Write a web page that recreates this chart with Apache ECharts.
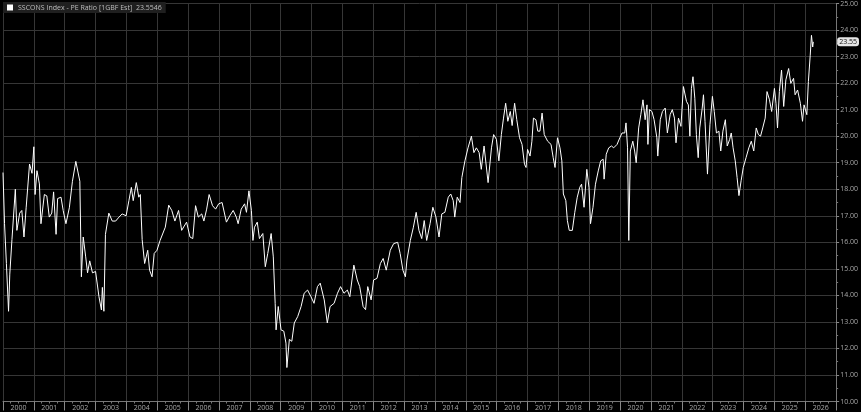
<!DOCTYPE html>
<html>
<head>
<meta charset="utf-8">
<script src="https://cdn.jsdelivr.net/npm/echarts@6/dist/echarts.min.js"></script>
<style>
  html, body { margin: 0; padding: 0; background: #000; }
  #chart { width: 861px; height: 412px; }
</style>
</head>
<body>
<div id="chart"></div>
<script>
  // time position of each reading, in fractional years
  const times = [
    2000.00, 2000.05, 2000.11, 2000.18, 2000.22, 2000.29, 2000.40, 2000.45, 2000.54, 2000.61, 2000.68, 2000.75, 2000.86, 2000.94,
    2001.00, 2001.04, 2001.10, 2001.18, 2001.23, 2001.34, 2001.42, 2001.50, 2001.58, 2001.64, 2001.72, 2001.77, 2001.88, 2001.95,
    2002.04, 2002.15, 2002.25, 2002.36, 2002.49, 2002.54, 2002.60, 2002.68, 2002.74, 2002.81, 2002.90,
    2003.00, 2003.11, 2003.19, 2003.22, 2003.27, 2003.32, 2003.43, 2003.54, 2003.65, 2003.76, 2003.86, 2003.99,
    2004.08, 2004.16, 2004.22, 2004.32, 2004.40, 2004.45, 2004.51, 2004.59, 2004.69, 2004.75, 2004.83, 2004.90, 2004.99,
    2005.09, 2005.26, 2005.37, 2005.47, 2005.57, 2005.69, 2005.79, 2005.95,
    2006.06, 2006.15, 2006.24, 2006.33, 2006.44, 2006.51, 2006.60, 2006.68, 2006.79, 2006.89, 2006.99,
    2007.10, 2007.24, 2007.35, 2007.46, 2007.56, 2007.62, 2007.72, 2007.83, 2007.89, 2007.97,
    2008.05, 2008.10, 2008.15, 2008.24, 2008.31, 2008.42, 2008.50, 2008.58, 2008.69, 2008.76, 2008.82, 2008.85, 2008.92,
    2009.01, 2009.10, 2009.17, 2009.20, 2009.28, 2009.36, 2009.44, 2009.55, 2009.66, 2009.76, 2009.87, 2009.98,
    2010.08, 2010.19, 2010.28, 2010.41, 2010.51, 2010.60, 2010.73, 2010.84, 2010.94,
    2011.05, 2011.16, 2011.24, 2011.37, 2011.48, 2011.56, 2011.67, 2011.75, 2011.82, 2011.93,
    2012.01, 2012.12, 2012.23, 2012.32, 2012.42, 2012.55, 2012.66, 2012.79, 2012.87, 2012.96,
    2013.04, 2013.09, 2013.20, 2013.30, 2013.39, 2013.48, 2013.57, 2013.65, 2013.73, 2013.84, 2013.93,
    2014.03, 2014.13, 2014.22, 2014.32, 2014.43, 2014.51, 2014.59, 2014.64, 2014.72, 2014.81, 2014.87, 2014.97,
    2015.07, 2015.18, 2015.26, 2015.34, 2015.43, 2015.50, 2015.59, 2015.64, 2015.72, 2015.83, 2015.90, 2015.99,
    2016.07, 2016.15, 2016.22, 2016.29, 2016.36, 2016.44, 2016.50, 2016.58, 2016.65, 2016.74, 2016.82, 2016.90, 2016.95,
    2017.00, 2017.08, 2017.14, 2017.19, 2017.27, 2017.33, 2017.40, 2017.47, 2017.54, 2017.65, 2017.76, 2017.83, 2017.89, 2017.97,
    2018.05, 2018.11, 2018.16, 2018.24, 2018.29, 2018.35, 2018.45, 2018.53, 2018.61, 2018.69, 2018.75, 2018.83, 2018.92, 2018.99,
    2019.04, 2019.12, 2019.20, 2019.29, 2019.37, 2019.45, 2019.48, 2019.55, 2019.63, 2019.72, 2019.79, 2019.90, 2019.99,
    2020.06, 2020.15, 2020.19, 2020.24, 2020.28, 2020.33, 2020.41, 2020.47, 2020.52, 2020.60, 2020.67, 2020.74, 2020.81, 2020.87, 2020.90, 2020.95,
    2021.03, 2021.10, 2021.19, 2021.22, 2021.30, 2021.37, 2021.46, 2021.53, 2021.62, 2021.69, 2021.76, 2021.81, 2021.89, 2021.97,
    2022.05, 2022.10, 2022.15, 2022.21, 2022.26, 2022.31, 2022.36, 2022.42, 2022.47, 2022.53, 2022.58, 2022.66, 2022.70, 2022.75, 2022.83, 2022.91, 2022.99,
    2023.05, 2023.12, 2023.20, 2023.26, 2023.33, 2023.41, 2023.47, 2023.55, 2023.60, 2023.66, 2023.73, 2023.79, 2023.85, 2023.92, 2023.99,
    2024.08, 2024.17, 2024.25, 2024.33, 2024.41, 2024.48, 2024.55, 2024.62, 2024.70, 2024.76, 2024.84, 2024.91,
    2025.00, 2025.05, 2025.10, 2025.16, 2025.23, 2025.30, 2025.37, 2025.46, 2025.53, 2025.62, 2025.67, 2025.75, 2025.84, 2025.91, 2025.96,
    2026.05, 2026.10, 2026.16, 2026.20, 2026.24, 2026.26
  ];

  // PE ratio readings
  const peRatio = [
    18.63, 16.7, 15.2, 13.4, 14.8, 16.1, 18.0, 16.45, 17.1, 17.2, 16.2, 17.3, 18.95, 18.6,
    19.6, 17.8, 18.7, 18.2, 16.7, 17.8, 17.75, 16.95, 17.1, 17.9, 16.3, 17.65, 17.7, 17.2,
    16.7, 17.3, 18.3, 19.05, 18.3, 14.7, 16.2, 15.45, 14.85, 15.3, 14.85,
    14.9, 13.95, 13.45, 14.3, 13.4, 16.3, 17.1, 16.8, 16.8, 16.95, 17.07, 17.0,
    17.57, 18.07, 17.57, 18.25, 17.7, 17.8, 16.1, 15.2, 15.7, 14.95, 14.7, 15.58, 15.7,
    16.07, 16.57, 17.4, 17.2, 16.8, 17.2, 16.45, 16.76,
    16.2, 16.14, 17.38, 16.95, 17.07, 16.8, 17.25, 17.8, 17.38, 17.25, 17.45,
    17.5, 16.76, 17.0, 17.2, 16.95, 16.7, 17.25, 17.45, 17.13, 17.94,
    17.2, 16.07, 16.57, 16.76, 16.14, 16.33, 15.08, 15.58, 16.33, 15.45, 13.7, 12.7, 13.58,
    12.7, 12.65, 12.2, 11.28, 12.34, 12.27, 12.96, 13.2, 13.58, 14.08, 14.2, 13.95,
    13.7, 14.33, 14.46, 13.83, 12.96, 13.58, 13.7, 14.08, 14.33,
    14.08, 14.2, 13.95, 15.14, 14.58, 14.33, 13.58, 13.46, 14.33, 13.83,
    14.58, 14.64, 15.2, 15.39, 14.95, 15.7, 15.95, 16.0, 15.58, 14.95,
    14.7, 15.33, 16.07, 16.57, 17.13, 16.45, 16.14, 16.82, 16.07, 16.7, 17.32,
    16.95, 16.2, 17.07, 17.13, 17.7, 17.82, 17.57, 16.95, 17.7, 17.5, 18.44, 19.07,
    19.56, 20.0, 19.38, 19.56, 19.38, 18.75, 19.63, 19.69, 18.25, 19.56, 20.06, 19.88,
    19.07, 20.06, 20.68, 21.24, 20.56, 20.93, 20.4, 21.24, 20.62, 19.94, 19.69, 18.94, 18.82,
    19.5, 19.25, 19.81, 20.68, 20.62, 20.19, 20.19, 20.87, 20.06, 19.81, 19.69, 19.19, 18.82, 19.94,
    19.56, 19.07, 17.82, 17.57, 16.82, 16.45, 16.45, 17.13, 17.7, 18.07, 18.19, 17.32, 18.75, 18.07,
    16.7, 17.32, 18.19, 18.69, 19.07, 19.13, 18.38, 19.32, 19.56, 19.63, 19.56, 19.69, 19.94,
    20.12, 20.12, 20.5, 19.56, 16.07, 19.44, 19.81, 19.44, 19.0, 20.31, 20.81, 21.37, 20.62, 21.18, 19.69, 21.0,
    20.93, 20.62, 19.94, 19.25, 20.62, 20.93, 21.06, 20.12, 20.81, 21.0, 20.68, 19.75, 20.68, 20.37,
    21.87, 21.8, 21.31, 21.18, 20.0, 21.8, 22.24, 21.43, 20.06, 19.19, 20.31, 21.06, 21.56, 20.56, 18.57, 20.43, 21.5,
    20.93, 20.12, 20.19, 19.44, 20.19, 20.62, 19.63, 19.88, 20.12, 19.56, 19.07, 18.44, 17.76, 18.32, 18.82,
    19.19, 19.56, 19.81, 19.44, 20.31, 20.06, 20.0, 20.31, 20.68, 21.68, 21.37, 20.93,
    21.8, 21.24, 20.31, 21.68, 22.49, 21.12, 22.12, 22.55, 21.99, 22.18, 21.56, 21.74, 21.24, 20.56, 21.18,
    20.81, 22.06, 23.05, 23.8, 23.36, 23.5546
  ];

  const seriesName = 'SSCONS Index - PE Ratio [1GBF Est]';
  const lastValue = peRatio[peRatio.length - 1];

  const seriesData = times.map((t, i) => [t, peRatio[i]]);

  const chart = echarts.init(document.getElementById('chart'));
  chart.setOption({
    backgroundColor: '#000',
    animation: false,
    textStyle: { fontFamily: 'Open Sans' },
    grid: { left: 0, right: 22, top: 2.5, bottom: 10.5, containLabel: false },
    legend: {
      left: 3, top: 2,
      icon: 'rect', itemWidth: 6, itemHeight: 6, itemGap: 4,
      padding: [2, 4],
      backgroundColor: '#1f1f1f',
      textStyle: { color: '#bdbdbd', fontSize: 7 },
      formatter: name => name + '  ' + lastValue.toFixed(4),
      data: [seriesName]
    },
    xAxis: [
      { // year labels, centred inside each year
        type: 'value', min: 2000, max: 2027, interval: 0.5, position: 'bottom',
        axisLine: { show: true, lineStyle: { color: '#777', width: 1 } },
        axisTick: { show: false },
        splitLine: { show: false },
        axisLabel: {
          color: '#a8a8a8', fontSize: 7, margin: 3,
          formatter: v => (Math.abs(v % 1 - 0.5) < 1e-6 ? String(Math.floor(v)) : '')
        }
      },
      { // year boundaries: grid lines and separators
        type: 'value', min: 2000, max: 2027, interval: 1, position: 'bottom',
        axisLine: { show: false },
        axisLabel: { show: false },
        axisTick: { show: true, length: 9, lineStyle: { color: '#888' } },
        minorTick: { show: true, splitNumber: 4, length: 2, lineStyle: { color: '#777' } },
        splitLine: { show: true, lineStyle: { color: '#363636', width: 1 } }
      }
    ],
    yAxis: {
      type: 'value', position: 'right', min: 10, max: 25, interval: 1,
      axisLine: { show: true, lineStyle: { color: '#777' } },
      axisTick: { show: true, length: 3, lineStyle: { color: '#888' } },
      minorTick: { show: true, splitNumber: 2, length: 2, lineStyle: { color: '#777' } },
      splitLine: { show: true, lineStyle: { color: '#363636', width: 1 } },
      axisLabel: { color: '#a8a8a8', fontSize: 7, margin: 4, formatter: v => v.toFixed(2) },
      axisPointer: {
        show: true, value: lastValue, status: 'show', triggerTooltip: false,
        lineStyle: { opacity: 0 },
        label: {
          show: true, backgroundColor: '#e6e6e6', color: '#111', fontSize: 7,
          padding: [1, 2], margin: 1,
          formatter: p => Number(p.value).toFixed(2)
        }
      }
    },
    series: [{
      name: seriesName,
      type: 'line',
      xAxisIndex: 0,
      showSymbol: false,
      itemStyle: { color: '#fff' },
      lineStyle: { color: '#fff', width: 1 },
      data: seriesData
    }]
  });
</script>
</body>
</html>
